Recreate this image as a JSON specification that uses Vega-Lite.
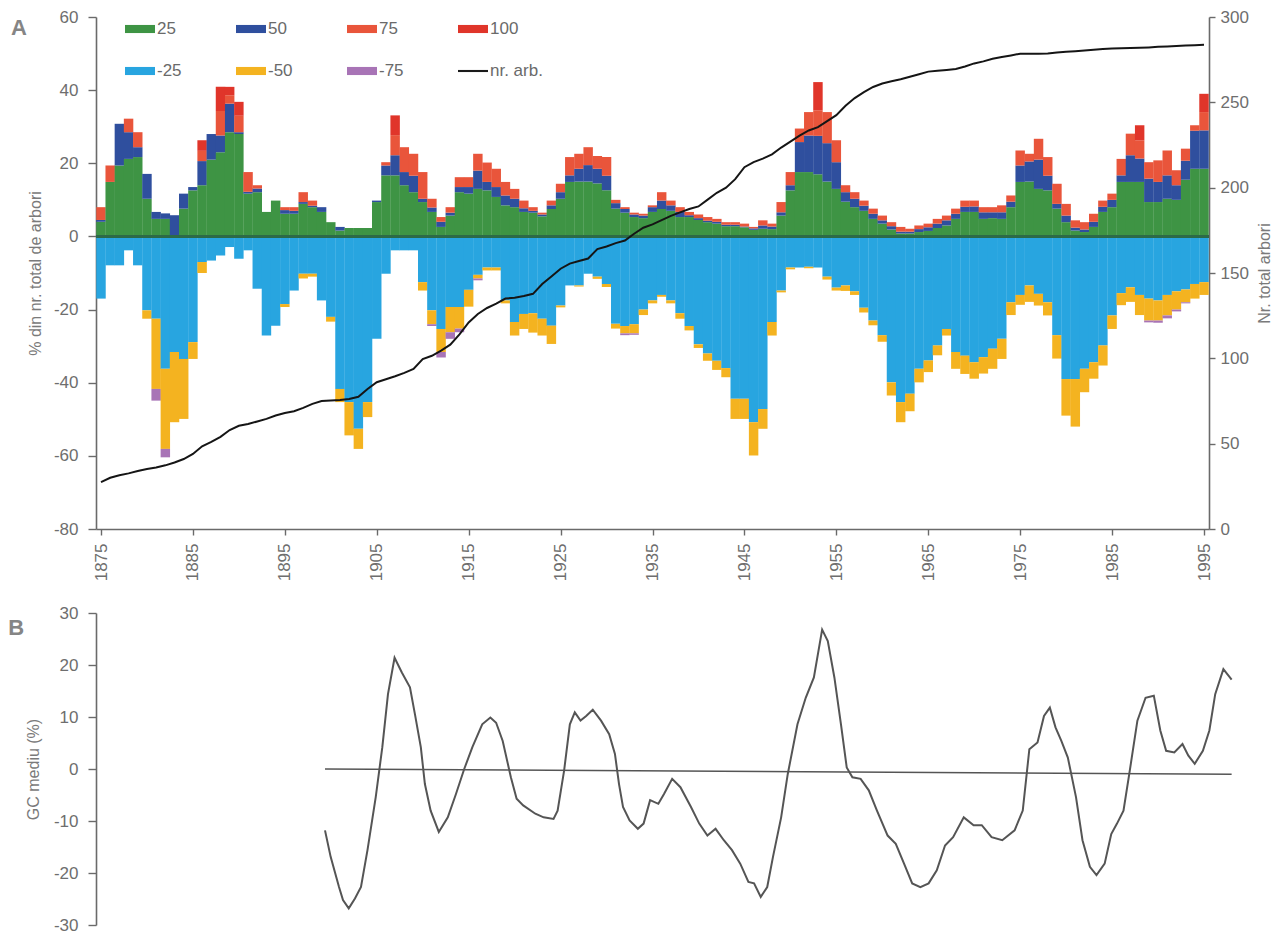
{
  "$schema": "https://vega.github.io/schema/vega-lite/v6.json",
  "background": "white",
  "padding": {"left": 8, "top": 8, "right": 0, "bottom": 0},
  "config": {
    "view": {"stroke": null},
    "font": "Liberation Sans",
    "axis": {
      "grid": false,
      "labelFont": "Liberation Sans",
      "labelFontSize": 17,
      "labelColor": "#6e6e6e",
      "titleFont": "Liberation Sans",
      "titleFontSize": 16,
      "titleFontWeight": "normal",
      "titleColor": "#7a7a7a",
      "domainColor": "#6a6a6a",
      "domainWidth": 1.6,
      "tickColor": "#6a6a6a",
      "tickWidth": 1.4
    },
    "legend": {"labelFont": "Liberation Sans"}
  },
  "datasets": {
    "ranks": [
      {"cls": "25", "rank": 1}, {"cls": "50", "rank": 2}, {"cls": "75", "rank": 3}, {"cls": "100", "rank": 4},
      {"cls": "-25", "rank": 1}, {"cls": "-50", "rank": 2}, {"cls": "-75", "rank": 3}
    ],
    "trees": [
      {"yr":1875,"25":4,"50":0.5,"75":3.5,"100":0,"-25":-17,"-50":0,"-75":0,"arb":27.5},
      {"yr":1876,"25":14.9,"50":0,"75":4.5,"100":0,"-25":-7.9,"-50":0,"-75":0,"arb":30},
      {"yr":1877,"25":19.4,"50":11.4,"75":0,"100":0,"-25":-7.9,"-50":0,"-75":0,"arb":31.5},
      {"yr":1878,"25":21.2,"50":7.3,"75":3.7,"100":0,"-25":-3.8,"-50":0,"-75":0,"arb":32.6},
      {"yr":1879,"25":21.7,"50":2.7,"75":4.1,"100":0,"-25":-7.9,"-50":0,"-75":0,"arb":34},
      {"yr":1880,"25":10.3,"50":6.8,"75":0,"100":0,"-25":-20.2,"-50":-2.3,"-75":0,"arb":35.2},
      {"yr":1881,"25":4.8,"50":1.9,"75":0,"100":0,"-25":-22.5,"-50":-19.2,"-75":-3.2,"arb":36},
      {"yr":1882,"25":4.8,"50":1.5,"75":0,"100":0,"-25":-36.2,"-50":-21.9,"-75":-2.3,"arb":37.3},
      {"yr":1883,"25":0.3,"50":5.5,"75":0,"100":0,"-25":-31.6,"-50":-19.2,"-75":0,"arb":39},
      {"yr":1884,"25":7.6,"50":4.1,"75":0,"100":0,"-25":-33.5,"-50":-16.4,"-75":0,"arb":41},
      {"yr":1885,"25":12.6,"50":0.9,"75":0,"100":0,"-25":-28.9,"-50":-4.6,"-75":0,"arb":44},
      {"yr":1886,"25":14,"50":6.6,"75":2.8,"100":2.9,"-25":-7,"-50":-3,"-75":0,"arb":48.5},
      {"yr":1887,"25":21,"50":7,"75":0,"100":0,"-25":-6.6,"-50":0,"-75":0,"arb":51},
      {"yr":1888,"25":23,"50":4.6,"75":6.7,"100":6.6,"-25":-5.2,"-50":0,"-75":0,"arb":54},
      {"yr":1889,"25":28.5,"50":7.8,"75":2.3,"100":2.3,"-25":-2.9,"-50":0,"-75":0,"arb":58},
      {"yr":1890,"25":28,"50":0.5,"75":4.5,"100":3.8,"-25":-6.1,"-50":0,"-75":0,"arb":60.5},
      {"yr":1891,"25":11.7,"50":0.5,"75":5.4,"100":0,"-25":-3.8,"-50":0,"-75":0,"arb":61.5},
      {"yr":1892,"25":12.1,"50":1,"75":0.9,"100":0,"-25":-14.3,"-50":0,"-75":0,"arb":63},
      {"yr":1893,"25":6.7,"50":0,"75":0,"100":0,"-25":-27.1,"-50":0,"-75":0,"arb":64.5},
      {"yr":1894,"25":9.8,"50":0,"75":0,"100":0,"-25":-24.4,"-50":0,"-75":0,"arb":66.5},
      {"yr":1895,"25":6.2,"50":1,"75":0.8,"100":0,"-25":-18.5,"-50":-0.8,"-75":0,"arb":68},
      {"yr":1896,"25":6.2,"50":0.8,"75":1,"100":0,"-25":-14.8,"-50":0,"-75":0,"arb":69},
      {"yr":1897,"25":8.9,"50":0.5,"75":2.7,"100":0,"-25":-10.2,"-50":-1.3,"-75":0,"arb":71},
      {"yr":1898,"25":8,"50":0.4,"75":1.4,"100":0,"-25":-10.2,"-50":-0.8,"-75":0,"arb":73.3},
      {"yr":1899,"25":6.7,"50":1.3,"75":0,"100":0,"-25":-17.5,"-50":0,"-75":0,"arb":75},
      {"yr":1900,"25":3.9,"50":0,"75":0,"100":0,"-25":-22,"-50":-1.3,"-75":0,"arb":75.3},
      {"yr":1901,"25":1.6,"50":1,"75":0,"100":0,"-25":-41.7,"-50":-3.6,"-75":0,"arb":75.6},
      {"yr":1902,"25":2.3,"50":0,"75":0,"100":0,"-25":-45.3,"-50":-9.1,"-75":0,"arb":76.2},
      {"yr":1903,"25":2.3,"50":0,"75":0,"100":0,"-25":-52.6,"-50":-5.5,"-75":0,"arb":77.5},
      {"yr":1904,"25":2.3,"50":0,"75":0,"100":0,"-25":-45.3,"-50":-4.1,"-75":0,"arb":82},
      {"yr":1905,"25":9.4,"50":0.4,"75":0,"100":0,"-25":-28,"-50":0,"-75":0,"arb":86},
      {"yr":1906,"25":16.7,"50":2.7,"75":0.9,"100":0,"-25":-10.2,"-50":0,"-75":0,"arb":87.7},
      {"yr":1907,"25":16.7,"50":5.5,"75":5.5,"100":5.4,"-25":-3.8,"-50":0,"-75":0,"arb":89.5},
      {"yr":1908,"25":14,"50":3.6,"75":6.8,"100":0,"-25":-3.8,"-50":0,"-75":0,"arb":91.5},
      {"yr":1909,"25":12.1,"50":4.5,"75":6,"100":0,"-25":-3.8,"-50":0,"-75":0,"arb":93.8},
      {"yr":1910,"25":9.4,"50":0.9,"75":7.3,"100":0,"-25":-12.5,"-50":-2.3,"-75":0,"arb":99.5},
      {"yr":1911,"25":6.7,"50":1.2,"75":2.4,"100":0,"-25":-20.2,"-50":-3.8,"-75":-0.5,"arb":101.5},
      {"yr":1912,"25":2.6,"50":1.4,"75":1.3,"100":0,"-25":-25.3,"-50":-6.3,"-75":-1.5,"arb":104.5},
      {"yr":1913,"25":5.7,"50":0.8,"75":1.5,"100":0,"-25":-19.3,"-50":-6.9,"-75":-1.8,"arb":108},
      {"yr":1914,"25":12.1,"50":1.4,"75":2.7,"100":0,"-25":-19.3,"-50":-5.9,"-75":-1,"arb":114},
      {"yr":1915,"25":11.7,"50":1.8,"75":2.7,"100":0,"-25":-14.6,"-50":-4.6,"-75":0,"arb":121},
      {"yr":1916,"25":13,"50":5,"75":4.6,"100":0,"-25":-10.5,"-50":-1,"-75":-0.5,"arb":126},
      {"yr":1917,"25":12.6,"50":2.3,"75":5.3,"100":0,"-25":-8.5,"-50":-0.8,"-75":0,"arb":129.5},
      {"yr":1918,"25":10.8,"50":2.7,"75":5,"100":0,"-25":-8.5,"-50":-0.8,"-75":0,"arb":132},
      {"yr":1919,"25":8.5,"50":2.7,"75":3.7,"100":0,"-25":-17.5,"-50":-0.8,"-75":0,"arb":135},
      {"yr":1920,"25":8,"50":2.3,"75":2.7,"100":0,"-25":-23.4,"-50":-3.7,"-75":0,"arb":135.5},
      {"yr":1921,"25":6.7,"50":1,"75":2.1,"100":0,"-25":-21.2,"-50":-4.1,"-75":0,"arb":136.5},
      {"yr":1922,"25":6.5,"50":0.5,"75":1,"100":0,"-25":-21,"-50":-5.3,"-75":0,"arb":137.8},
      {"yr":1923,"25":5.5,"50":0.5,"75":0.5,"100":0,"-25":-22.5,"-50":-4.6,"-75":0,"arb":143.5},
      {"yr":1924,"25":7.5,"50":1,"75":1.3,"100":0,"-25":-24.4,"-50":-5,"-75":0,"arb":148},
      {"yr":1925,"25":10.3,"50":1.8,"75":2.3,"100":0,"-25":-18.9,"-50":-0.5,"-75":0,"arb":152.5},
      {"yr":1926,"25":14.9,"50":1.8,"75":5,"100":0,"-25":-13.4,"-50":0,"-75":0,"arb":155.5},
      {"yr":1927,"25":15,"50":3.5,"75":4.1,"100":0,"-25":-13.4,"-50":-0.3,"-75":0,"arb":157},
      {"yr":1928,"25":15,"50":4.5,"75":4.9,"100":0,"-25":-10.2,"-50":0,"-75":0,"arb":158.5},
      {"yr":1929,"25":14.5,"50":4,"75":3.5,"100":0,"-25":-11,"-50":-0.6,"-75":0,"arb":164},
      {"yr":1930,"25":12.6,"50":4,"75":5.1,"100":0,"-25":-13,"-50":-0.8,"-75":0,"arb":165.5},
      {"yr":1931,"25":7.6,"50":1.5,"75":0.9,"100":0,"-25":-23.9,"-50":-1.3,"-75":0,"arb":167.5},
      {"yr":1932,"25":6.5,"50":1,"75":0.5,"100":0,"-25":-24.5,"-50":-2,"-75":-0.5,"arb":169},
      {"yr":1933,"25":5.3,"50":0.7,"75":0.5,"100":0,"-25":-24,"-50":-2.5,"-75":-0.4,"arb":173},
      {"yr":1934,"25":5,"50":0.7,"75":0.5,"100":0,"-25":-20,"-50":-1.5,"-75":0,"arb":176.5},
      {"yr":1935,"25":6.7,"50":1.3,"75":0.5,"100":0,"-25":-17.5,"-50":-0.8,"-75":0,"arb":178.5},
      {"yr":1936,"25":7.5,"50":2.3,"75":2.3,"100":0,"-25":-16,"-50":-0.5,"-75":0,"arb":181},
      {"yr":1937,"25":7,"50":1.5,"75":1.3,"100":0,"-25":-17.5,"-50":-0.8,"-75":0,"arb":183.5},
      {"yr":1938,"25":5.3,"50":1.4,"75":1.3,"100":0,"-25":-21,"-50":-1.5,"-75":0,"arb":185.5},
      {"yr":1939,"25":5.3,"50":0.5,"75":0.9,"100":0,"-25":-24.5,"-50":-1.2,"-75":0,"arb":187.5},
      {"yr":1940,"25":4.5,"50":0.5,"75":1,"100":0,"-25":-29.5,"-50":-1,"-75":0,"arb":189},
      {"yr":1941,"25":3.9,"50":0.4,"75":1,"100":0,"-25":-32,"-50":-2,"-75":0,"arb":193},
      {"yr":1942,"25":3.5,"50":0.5,"75":0.8,"100":0,"-25":-34,"-50":-2.5,"-75":0,"arb":197},
      {"yr":1943,"25":2.8,"50":0.4,"75":0.7,"100":0,"-25":-36,"-50":-2.5,"-75":0,"arb":200},
      {"yr":1944,"25":2.8,"50":0.4,"75":0.7,"100":0,"-25":-44.4,"-50":-5.5,"-75":0,"arb":205},
      {"yr":1945,"25":2.5,"50":0.2,"75":0.8,"100":0,"-25":-44.4,"-50":-5.5,"-75":0,"arb":212},
      {"yr":1946,"25":1.8,"50":0.4,"75":0.4,"100":0,"-25":-50.8,"-50":-9.1,"-75":0,"arb":215},
      {"yr":1947,"25":2.1,"50":0.9,"75":1.4,"100":0,"-25":-47.2,"-50":-5.4,"-75":0,"arb":217},
      {"yr":1948,"25":2,"50":0.7,"75":0.8,"100":0,"-25":-23.4,"-50":-3.7,"-75":0,"arb":219.5},
      {"yr":1949,"25":5.7,"50":0.9,"75":2.8,"100":0,"-25":-14.8,"-50":-0.5,"-75":0,"arb":223.5},
      {"yr":1950,"25":12.6,"50":1.4,"75":3.6,"100":0,"-25":-8.5,"-50":-0.5,"-75":0,"arb":227},
      {"yr":1951,"25":17.6,"50":8.2,"75":3.7,"100":0,"-25":-8.5,"-50":0,"-75":0,"arb":230.5},
      {"yr":1952,"25":17.6,"50":10,"75":6.4,"100":0,"-25":-8.3,"-50":-0.4,"-75":0,"arb":233.5},
      {"yr":1953,"25":17,"50":10.5,"75":7,"100":7.7,"-25":-8.5,"-50":0,"-75":0,"arb":235.5},
      {"yr":1954,"25":15,"50":10.5,"75":8.5,"100":0,"-25":-11,"-50":-0.8,"-75":0,"arb":239},
      {"yr":1955,"25":13,"50":7.3,"75":6,"100":0,"-25":-14,"-50":-0.8,"-75":0,"arb":242.5},
      {"yr":1956,"25":9.5,"50":2.6,"75":1.9,"100":0,"-25":-13.4,"-50":-1.5,"-75":0,"arb":248},
      {"yr":1957,"25":8,"50":2.3,"75":1.8,"100":0,"-25":-15,"-50":-1,"-75":0,"arb":252.5},
      {"yr":1958,"25":7,"50":1.4,"75":1.4,"100":0,"-25":-19.5,"-50":-1.3,"-75":0,"arb":256},
      {"yr":1959,"25":4.8,"50":1.4,"75":1.4,"100":0,"-25":-23,"-50":-1.3,"-75":0,"arb":259},
      {"yr":1960,"25":3.5,"50":0.9,"75":1.3,"100":0,"-25":-27,"-50":-1.8,"-75":0,"arb":261},
      {"yr":1961,"25":1.9,"50":0.9,"75":1.1,"100":0,"-25":-39.9,"-50":-3.6,"-75":0,"arb":262.3},
      {"yr":1962,"25":0.8,"50":0.5,"75":1.3,"100":0,"-25":-45.3,"-50":-5.5,"-75":0,"arb":263.5},
      {"yr":1963,"25":0.8,"50":0.5,"75":0.8,"100":0,"-25":-43,"-50":-4.8,"-75":0,"arb":265},
      {"yr":1964,"25":1.2,"50":0.8,"75":1,"100":0,"-25":-36.2,"-50":-3.7,"-75":0,"arb":266.5},
      {"yr":1965,"25":1.5,"50":1,"75":1,"100":0,"-25":-33.9,"-50":-3.2,"-75":0,"arb":268},
      {"yr":1966,"25":2.3,"50":1.2,"75":1.3,"100":0,"-25":-29.8,"-50":-2.7,"-75":0,"arb":268.5},
      {"yr":1967,"25":3,"50":1.4,"75":1.3,"100":0,"-25":-25.3,"-50":-1.8,"-75":0,"arb":269},
      {"yr":1968,"25":4.8,"50":1.4,"75":1.4,"100":0,"-25":-31.6,"-50":-4.6,"-75":0,"arb":269.5},
      {"yr":1969,"25":6.7,"50":1.4,"75":1.7,"100":0,"-25":-32.6,"-50":-5,"-75":0,"arb":271},
      {"yr":1970,"25":6.7,"50":1.5,"75":1.6,"100":0,"-25":-34.4,"-50":-4.5,"-75":0,"arb":272.8},
      {"yr":1971,"25":4.8,"50":1.8,"75":1.4,"100":0,"-25":-33,"-50":-4.5,"-75":0,"arb":274},
      {"yr":1972,"25":5,"50":1.6,"75":1.4,"100":0,"-25":-30.7,"-50":-5.5,"-75":0,"arb":275.5},
      {"yr":1973,"25":4.8,"50":1.8,"75":1.9,"100":0,"-25":-28,"-50":-5.5,"-75":0,"arb":276.5},
      {"yr":1974,"25":8,"50":1.5,"75":1.7,"100":0,"-25":-18,"-50":-3.5,"-75":0,"arb":277.5},
      {"yr":1975,"25":14.9,"50":4.5,"75":4.1,"100":0,"-25":-16,"-50":-2.7,"-75":0,"arb":278.5},
      {"yr":1976,"25":15,"50":5.5,"75":2.1,"100":0,"-25":-13.4,"-50":-4.5,"-75":0,"arb":278.5},
      {"yr":1977,"25":13,"50":8,"75":5.7,"100":0,"-25":-15.7,"-50":-3.2,"-75":0,"arb":278.5},
      {"yr":1978,"25":12.6,"50":4,"75":5.1,"100":0,"-25":-18,"-50":-3.6,"-75":0,"arb":278.6},
      {"yr":1979,"25":7.6,"50":1.3,"75":5.5,"100":0,"-25":-27,"-50":-6.4,"-75":0,"arb":279.2},
      {"yr":1980,"25":3.9,"50":1.8,"75":3.2,"100":0,"-25":-39,"-50":-10,"-75":0,"arb":279.7},
      {"yr":1981,"25":1.6,"50":0.8,"75":2,"100":0,"-25":-39,"-50":-13,"-75":0,"arb":280},
      {"yr":1982,"25":1.2,"50":0.7,"75":2,"100":0,"-25":-36.2,"-50":-6.4,"-75":0,"arb":280.4},
      {"yr":1983,"25":2.6,"50":1.4,"75":2.2,"100":0,"-25":-34.4,"-50":-4.5,"-75":0,"arb":280.8},
      {"yr":1984,"25":6.7,"50":1.4,"75":1.7,"100":0,"-25":-29.8,"-50":-5.5,"-75":0,"arb":281.2},
      {"yr":1985,"25":8,"50":2,"75":1.7,"100":0,"-25":-21.6,"-50":-3.7,"-75":0,"arb":281.5},
      {"yr":1986,"25":14.9,"50":1.8,"75":4.5,"100":0,"-25":-15.5,"-50":-3.3,"-75":0,"arb":281.7},
      {"yr":1987,"25":14.9,"50":7.3,"75":5.9,"100":0,"-25":-13.9,"-50":-4,"-75":0,"arb":281.9},
      {"yr":1988,"25":14.9,"50":6.4,"75":5,"100":4.1,"-25":-16,"-50":-5.5,"-75":0,"arb":282},
      {"yr":1989,"25":9.4,"50":6.4,"75":4.5,"100":0,"-25":-17,"-50":-6,"-75":-0.5,"arb":282.2},
      {"yr":1990,"25":9.4,"50":5.5,"75":5.9,"100":0,"-25":-17.5,"-50":-5.5,"-75":-0.6,"arb":282.5},
      {"yr":1991,"25":10.3,"50":6.4,"75":6.8,"100":0,"-25":-16,"-50":-5.6,"-75":-0.8,"arb":282.7},
      {"yr":1992,"25":10,"50":4,"75":4.1,"100":0,"-25":-15,"-50":-5,"-75":-0.5,"arb":283},
      {"yr":1993,"25":15.5,"50":5.2,"75":3.3,"100":0,"-25":-14.5,"-50":-3.5,"-75":-0.3,"arb":283.3},
      {"yr":1994,"25":18.5,"50":10.4,"75":1.5,"100":0,"-25":-13,"-50":-4,"-75":0,"arb":283.5},
      {"yr":1995,"25":18.5,"50":10.5,"75":5,"100":5,"-25":-12.5,"-50":-3.5,"-75":0,"arb":283.7}
    ],
    "gc": [
      {"t":1899.69,"gc":-11.8},{"t":1900.30,"gc":-16.9},{"t":1901.20,"gc":-22.7},{"t":1901.63,"gc":-25.2},
      {"t":1902.25,"gc":-26.8},{"t":1902.92,"gc":-24.9},{"t":1903.57,"gc":-22.7},{"t":1904.27,"gc":-15.6},
      {"t":1905.16,"gc":-5.4},{"t":1905.87,"gc":4.2},{"t":1906.48,"gc":14.4},{"t":1907.19,"gc":21.4},
      {"t":1907.99,"gc":18.5},{"t":1908.85,"gc":15.7},{"t":1909.39,"gc":10.5},{"t":1910.02,"gc":4.2},
      {"t":1910.46,"gc":-2.9},{"t":1911.08,"gc":-8},{"t":1911.96,"gc":-12.1},{"t":1912.93,"gc":-9.3},
      {"t":1913.81,"gc":-4.8},{"t":1914.70,"gc":0},{"t":1915.58,"gc":4.2},{"t":1916.64,"gc":8.6},
      {"t":1917.52,"gc":9.9},{"t":1918.14,"gc":8.9},{"t":1918.85,"gc":5.4},{"t":1919.73,"gc":-1.6},
      {"t":1920.35,"gc":-5.7},{"t":1921.06,"gc":-7.0},{"t":1922.37,"gc":-8.6},{"t":1923.26,"gc":-9.3},
      {"t":1924.33,"gc":-9.6},{"t":1924.77,"gc":-8},{"t":1925.47,"gc":-0.3},{"t":1926.09,"gc":8.6},
      {"t":1926.62,"gc":10.9},{"t":1927.24,"gc":9.3},{"t":1927.85,"gc":10.2},{"t":1928.56,"gc":11.4},
      {"t":1929.45,"gc":9.3},{"t":1930.33,"gc":6.7},{"t":1930.95,"gc":2.9},{"t":1931.39,"gc":-2.9},
      {"t":1931.82,"gc":-7.3},{"t":1932.53,"gc":-9.9},{"t":1933.42,"gc":-11.5},{"t":1934.04,"gc":-10.5},
      {"t":1934.74,"gc":-6},{"t":1935.63,"gc":-6.7},{"t":1936.24,"gc":-4.8},{"t":1937.12,"gc":-1.9},
      {"t":1938.01,"gc":-3.5},{"t":1939.15,"gc":-7.3},{"t":1940.04,"gc":-10.5},{"t":1940.92,"gc":-12.8},
      {"t":1941.80,"gc":-11.5},{"t":1942.69,"gc":-13.7},{"t":1943.57,"gc":-15.6},{"t":1944.46,"gc":-18.2},
      {"t":1945.34,"gc":-21.7},{"t":1945.95,"gc":-22},{"t":1946.67,"gc":-24.6},{"t":1947.37,"gc":-22.7},
      {"t":1947.99,"gc":-16.9},{"t":1948.87,"gc":-9.3},{"t":1949.58,"gc":-1},{"t":1950.63,"gc":8.6},
      {"t":1951.52,"gc":13.7},{"t":1952.40,"gc":17.6},{"t":1953.29,"gc":26.8},{"t":1953.90,"gc":24.6},
      {"t":1954.61,"gc":17.6},{"t":1955.32,"gc":8.6},{"t":1955.94,"gc":0.3},{"t":1956.55,"gc":-1.6},
      {"t":1957.44,"gc":-1.9},{"t":1958.32,"gc":-4.1},{"t":1959.20,"gc":-8},{"t":1960.35,"gc":-12.8},
      {"t":1961.23,"gc":-14.4},{"t":1962.12,"gc":-18.2},{"t":1963.00,"gc":-22},{"t":1963.88,"gc":-22.7},
      {"t":1964.77,"gc":-22},{"t":1965.65,"gc":-19.5},{"t":1966.54,"gc":-14.7},{"t":1967.41,"gc":-13.1},
      {"t":1968.56,"gc":-9.3},{"t":1969.62,"gc":-10.8},{"t":1970.50,"gc":-10.8},{"t":1971.56,"gc":-13.1},
      {"t":1972.71,"gc":-13.7},{"t":1974.04,"gc":-11.8},{"t":1974.92,"gc":-8},{"t":1975.63,"gc":3.8},
      {"t":1976.51,"gc":5.1},{"t":1977.21,"gc":10.2},{"t":1977.84,"gc":11.8},{"t":1978.45,"gc":8},
      {"t":1979.08,"gc":5.4},{"t":1979.78,"gc":2.2},{"t":1980.66,"gc":-5.4},{"t":1981.36,"gc":-13.7},
      {"t":1982.16,"gc":-18.8},{"t":1982.87,"gc":-20.4},{"t":1983.75,"gc":-18.2},{"t":1984.46,"gc":-12.5},
      {"t":1985.08,"gc":-10.5},{"t":1985.78,"gc":-8},{"t":1986.40,"gc":-1},{"t":1987.28,"gc":9.3},
      {"t":1988.16,"gc":13.7},{"t":1989.05,"gc":14.1},{"t":1989.75,"gc":7.4},{"t":1990.38,"gc":3.5},
      {"t":1991.26,"gc":3.2},{"t":1992.14,"gc":4.8},{"t":1992.76,"gc":2.6},{"t":1993.46,"gc":1},
      {"t":1994.34,"gc":3.5},{"t":1995.04,"gc":7.4},{"t":1995.67,"gc":14.4},{"t":1996.55,"gc":19.2},
      {"t":1997.44,"gc":17.2}
    ]
  },
  "spacing": 23,
  "vconcat": [
    {
      "width": 1113,
      "height": 512,
      "title": {
        "text": "A", "anchor": "start", "frame": "group",
        "offset": -32, "dx": -85,
        "font": "Liberation Sans", "fontSize": 22, "fontWeight": "bold", "color": "#858585"
      },
      "data": {"name": "trees"},
      "layer": [
        {
          "layer": [
            {
              "transform": [
                {"fold": ["25", "50", "75", "100", "-25", "-50", "-75"], "as": ["cls", "pct"]},
                {"lookup": "cls", "from": {"data": {"name": "ranks"}, "key": "cls", "fields": ["rank"]}}
              ],
              "mark": {"type": "bar", "width": 9.45, "clip": true, "strokeWidth": 0},
              "encoding": {
                "x": {
                  "field": "yr", "type": "quantitative",
                  "scale": {"domain": [1875, 1995], "nice": false, "zero": false},
                  "axis": {
                    "title": null, "format": "d",
                    "values": [1875, 1885, 1895, 1905, 1915, 1925, 1935, 1945, 1955, 1965, 1975, 1985, 1995],
                    "labelAngle": 270, "tickSize": 6, "labelPadding": 8,
                    "labelFlush": false, "labelOverlap": false
                  }
                },
                "y": {
                  "field": "pct", "type": "quantitative", "stack": "zero",
                  "scale": {"domain": [-80, 60], "nice": false},
                  "axis": {
                    "title": "% din nr. total de arbori",
                    "values": [-80, -60, -40, -20, 0, 20, 40, 60],
                    "labelExpr": "'' + datum.value",
                    "tickSize": 8, "labelPadding": 10, "titlePadding": 10
                  }
                },
                "color": {
                  "field": "cls", "type": "nominal",
                  "scale": {
                    "domain": ["25", "50", "75", "100", "-25", "-50", "-75", "nr. arb."],
                    "range": ["#3e9444", "#2f4f9e", "#e9553b", "#e0352a", "#28a5e0", "#f4b320", "#a874b6", "#1a1a1a"]
                  },
                  "legend": {
                    "title": null, "orient": "none", "legendX": 29, "legendY": -3,
                    "direction": "horizontal",
                    "columns": 4, "gridAlign": "all", "padding": 0,
                    "symbolType": "M-1,-0.27H1V0.27H-1Z", "symbolSize": 900, "symbolStrokeWidth": 0,
                    "labelFontSize": 17, "labelColor": "#6a6a6a", "labelOffset": 2,
                    "rowPadding": 19, "columnPadding": 26,
                    "encode": {
                      "symbols": {
                        "update": {
                          "shape": {"signal": "datum.value === 'nr. arb.' ? 'M-1,-0.07H1V0.07H-1Z' : 'M-1,-0.27H1V0.27H-1Z'"}
                        }
                      }
                    }
                  }
                },
                "order": {"field": "rank", "type": "quantitative"}
              }
            },
            {
              "mark": {"type": "rule", "color": "#2d6a48", "strokeWidth": 2},
              "encoding": {"y": {"datum": 0}}
            }
          ]
        },
        {
          "mark": {"type": "line", "color": "#151515", "strokeWidth": 2},
          "encoding": {
            "x": {"field": "yr", "type": "quantitative"},
            "y": {
              "field": "arb", "type": "quantitative",
              "scale": {"domain": [0, 300], "nice": false},
              "axis": {
                "orient": "right", "title": "Nr. total arbori",
                "values": [0, 50, 100, 150, 200, 250, 300],
                "tickSize": 6, "labelPadding": 5, "titlePadding": 8,
                "titleAngle": 270, "titleBaseline": "top"
              }
            }
          }
        }
      ],
      "resolve": {"scale": {"y": "independent"}}
    },
    {
      "width": 1145,
      "height": 312,
      "title": {
        "text": "B", "anchor": "start", "frame": "group",
        "offset": -36, "dx": -87.7,
        "font": "Liberation Sans", "fontSize": 22, "fontWeight": "bold", "color": "#858585"
      },
      "layer": [
        {
          "data": {"name": "gc"},
          "mark": {"type": "line", "color": "#555555", "strokeWidth": 2},
          "encoding": {
            "x": {
              "field": "t", "type": "quantitative",
              "scale": {"domain": [1875, 1998.45], "nice": false, "zero": false},
              "axis": null
            },
            "y": {
              "field": "gc", "type": "quantitative",
              "scale": {"domain": [-30, 30], "nice": false},
              "axis": {
                "title": "GC mediu (%)",
                "values": [-30, -20, -10, 0, 10, 20, 30],
                "labelExpr": "'' + datum.value",
                "tickSize": 8, "labelPadding": 10, "titlePadding": 12
              }
            }
          }
        },
        {
          "data": {"values": [{"t": 1899.69, "z": 0}, {"t": 1997.44, "z": -1}]},
          "mark": {"type": "line", "color": "#555555", "strokeWidth": 1.6},
          "encoding": {
            "x": {"field": "t", "type": "quantitative"},
            "y": {"field": "z", "type": "quantitative"}
          }
        }
      ]
    }
  ]
}
